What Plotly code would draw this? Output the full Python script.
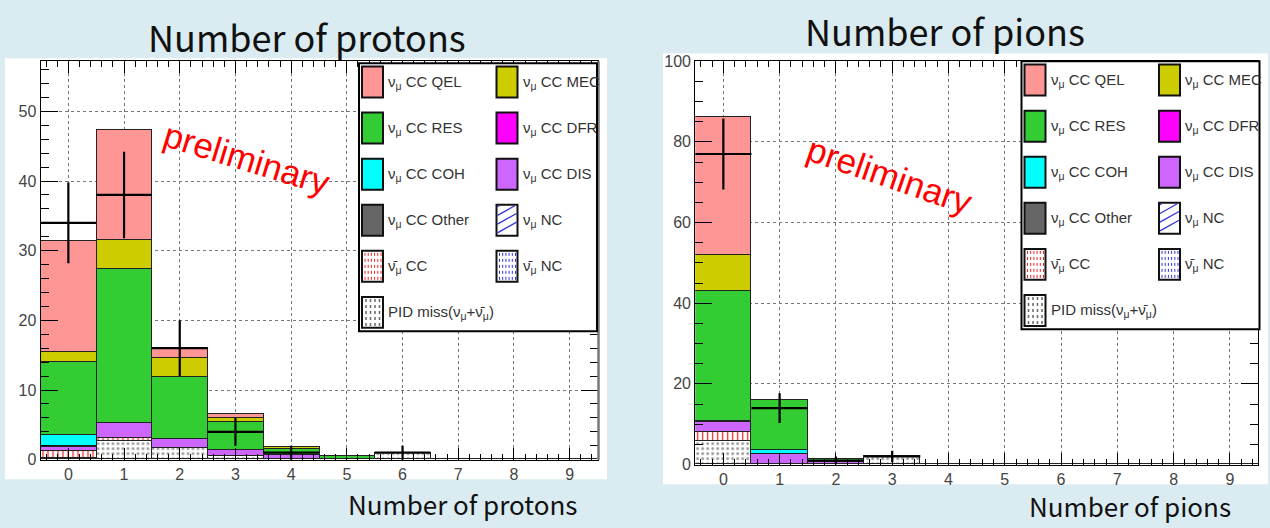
import plotly.graph_objects as go

W, H = 1270, 528

# ---------------------------------------------------------------- data
bins = [0, 1, 2, 3, 4, 5, 6, 7, 8, 9]
bin_labels = ["0", "1", "2", "3", "4", "5", "6", "7", "8", "9"]

# Number of protons: MC components per bin
p_pid_miss = [0.2, 2.6, 1.6, 0.5, 0.0, 0.0, 0.9, 0.05, 0.0, 0.0]
p_nubar_nc = [0.0, 0.0, 0.0, 0.0, 0.0, 0.0, 0.0, 0.0, 0.0, 0.0]
p_nubar_cc = [1.0, 0.5, 0.0, 0.0, 0.0, 0.0, 0.0, 0.0, 0.0, 0.0]
p_nc = [0.0, 0.0, 0.0, 0.0, 0.0, 0.0, 0.0, 0.0, 0.0, 0.0]
p_dis = [0.65, 2.2, 1.4, 0.8, 0.6, 0.1, 0.0, 0.0, 0.0, 0.0]
p_other = [0.1, 0.0, 0.0, 0.0, 0.0, 0.0, 0.0, 0.0, 0.0, 0.0]
p_coh = [1.5, 0.0, 0.0, 0.0, 0.0, 0.0, 0.0, 0.0, 0.0, 0.0]
p_dfr = [0.0, 0.0, 0.0, 0.0, 0.0, 0.0, 0.0, 0.0, 0.0, 0.0]
p_res = [10.55, 22.0, 8.8, 4.1, 0.9, 0.4, 0.0, 0.0, 0.0, 0.0]
p_mec = [1.4, 4.2, 2.7, 0.6, 0.3, 0.0, 0.0, 0.0, 0.0, 0.0]
p_qel = [15.9, 15.8, 1.5, 0.5, 0.0, 0.0, 0.0, 0.0, 0.0, 0.0]

# Number of protons: observed counts
p_data_bins = [0, 1, 2, 3, 4, 6]
p_data = [34, 38, 16, 4, 1, 1]
p_data_err = [5.8, 6.2, 4.0, 2.0, 1.0, 1.0]

# Number of pions: MC components per bin
pi_pid_miss = [5.8, 0.0, 0.0, 2.0, 0.0, 0.0, 0.0, 0.0, 0.0, 0.0]
pi_nubar_nc = [0.0, 0.0, 0.0, 0.0, 0.0, 0.0, 0.0, 0.0, 0.0, 0.0]
pi_nubar_cc = [2.2, 0.1, 0.0, 0.0, 0.0, 0.0, 0.0, 0.0, 0.0, 0.0]
pi_nc = [0.0, 0.0, 0.0, 0.0, 0.0, 0.0, 0.0, 0.0, 0.0, 0.0]
pi_dis = [2.5, 2.5, 0.5, 0.0, 0.0, 0.0, 0.0, 0.0, 0.0, 0.0]
pi_other = [0.3, 0.0, 0.0, 0.0, 0.0, 0.0, 0.0, 0.0, 0.0, 0.0]
pi_coh = [0.0, 1.0, 0.0, 0.0, 0.0, 0.0, 0.0, 0.0, 0.0, 0.0]
pi_dfr = [0.0, 0.0, 0.0, 0.0, 0.0, 0.0, 0.0, 0.0, 0.0, 0.0]
pi_res = [32.2, 12.4, 0.9, 0.0, 0.0, 0.0, 0.0, 0.0, 0.0, 0.0]
pi_mec = [9.0, 0.0, 0.0, 0.0, 0.0, 0.0, 0.0, 0.0, 0.0, 0.0]
pi_qel = [34.0, 0.0, 0.0, 0.0, 0.0, 0.0, 0.0, 0.0, 0.0, 0.0]

# Number of pions: observed counts
pi_data_bins = [0, 1, 2, 3]
pi_data = [77, 14, 1, 2]
pi_data_err = [8.8, 3.7, 1.0, 1.4]

# ---------------------------------------------------------------- styles
NU = "ν<sub>μ</sub>"
NUBAR = "ν̄<sub>μ</sub>"

STYLE = {
    "qel": dict(label=NU + " CC QEL", color="#ff9696", pat=None),
    "mec": dict(label=NU + " CC MEC", color="#cccc00", pat=None),
    "res": dict(label=NU + " CC RES", color="#33cc33", pat=None),
    "dfr": dict(label=NU + " CC DFR", color="#ff00ff", pat=None),
    "coh": dict(label=NU + " CC COH", color="#00ffff", pat=None),
    "dis": dict(label=NU + " CC DIS", color="#cc66ff", pat=None),
    "other": dict(label=NU + " CC Other", color="#666666", pat=None),
    "nc": dict(label=NU + " NC", color="#3333dd", pat="/"),
    "nubar_cc": dict(label=NUBAR + " CC", color="#ee2222", pat="|"),
    "nubar_nc": dict(label=NUBAR + " NC", color="#3333dd", pat="|"),
    "pid": dict(label="PID miss(" + NU + "+" + NUBAR + ")", color="#999999", pat="."),
}

# bottom-to-top stacking order
STACK = ["pid", "nubar_nc", "nubar_cc", "nc", "dis", "other", "coh", "dfr", "res", "mec", "qel"]

proton_mc = {
    "pid": p_pid_miss, "nubar_nc": p_nubar_nc, "nubar_cc": p_nubar_cc, "nc": p_nc,
    "dis": p_dis, "other": p_other, "coh": p_coh, "dfr": p_dfr,
    "res": p_res, "mec": p_mec, "qel": p_qel,
}
pion_mc = {
    "pid": pi_pid_miss, "nubar_nc": pi_nubar_nc, "nubar_cc": pi_nubar_cc, "nc": pi_nc,
    "dis": pi_dis, "other": pi_other, "coh": pi_coh, "dfr": pi_dfr,
    "res": pi_res, "mec": pi_mec, "qel": pi_qel,
}

LEGEND_ROWS = [("qel", "mec"), ("res", "dfr"), ("coh", "dis"),
               ("other", "nc"), ("nubar_cc", "nubar_nc"), ("pid", None)]

BG = "#daecf2"
FONT = "Liberation Sans, Arial, sans-serif"
TITLE_FONT = "Noto Sans CJK JP, Noto Sans, sans-serif"


def fx(x):
    return x / W


def fy(y):
    return 1 - y / H


fig = go.Figure()


def add_panel(mc, data_bins, data, data_err, xa, ya):
    for key in STACK:
        st = STYLE[key]
        if st["pat"] is None:
            marker = dict(color=st["color"], line=dict(color="#222222", width=1))
        else:
            marker = dict(
                color="white",
                line=dict(color="#222222", width=1),
                pattern=dict(shape=st["pat"], fgcolor=st["color"], bgcolor="white",
                             size=5, solidity=0.25, fillmode="replace"),
            )
        fig.add_trace(go.Bar(x=bins, y=mc[key], width=1.0, marker=marker,
                             xaxis=xa, yaxis=ya, showlegend=False, name=st["label"]))
    fig.add_trace(go.Scatter(
        x=data_bins, y=data, mode="markers",
        marker=dict(size=1, color="black"),
        error_y=dict(type="data", array=data_err, color="black", thickness=2.2, width=0),
        error_x=dict(type="data", array=[0.5] * len(data_bins), color="black", thickness=2.2, width=0),
        xaxis=xa, yaxis=ya, showlegend=False, name="data",
    ))


add_panel(proton_mc, p_data_bins, p_data, p_data_err, "x", "y")
add_panel(pion_mc, pi_data_bins, pi_data, pi_data_err, "x2", "y2")

TICKFONT = dict(family=FONT, size=16, color="#444444")


def xaxis_cfg(x0, x1, anchor):
    return dict(
        domain=[fx(x0), fx(x1)], range=[-0.5, 9.5], anchor=anchor,
        tickmode="array", tickvals=bins, ticktext=bin_labels,
        ticks="inside", ticklen=12, tickcolor="black",
        minor=dict(ticks="inside", ticklen=6, dtick=0.2, tick0=0, tickcolor="black", showgrid=False),
        showgrid=True, gridcolor="#777777", griddash="dot", gridwidth=1,
        showline=True, linecolor="black", linewidth=1, mirror="allticks",
        zeroline=False, tickfont=TICKFONT, fixedrange=True,
    )


def yaxis_cfg(y0, y1, top, major, minor, anchor):
    return dict(
        domain=[fy(y0), fy(y1)], range=[0, top], anchor=anchor,
        tickmode="linear", tick0=0, dtick=major,
        ticks="inside", ticklen=17, tickcolor="black",
        minor=dict(ticks="inside", ticklen=8, dtick=minor, tick0=0, tickcolor="black", showgrid=False),
        showgrid=True, gridcolor="#777777", griddash="dot", gridwidth=1,
        showline=True, linecolor="black", linewidth=1, mirror="allticks",
        zeroline=False, tickfont=TICKFONT, fixedrange=True,
    )


shapes = []
annotations = []

# white panels on the light-blue slide background
for (x0, y0, x1, y1) in [(5, 52, 607, 487), (663, 47, 1268, 492)]:
    shapes.append(dict(type="rect", xref="paper", yref="paper", layer="below",
                       x0=fx(x0), x1=fx(x1), y0=fy(y1), y1=fy(y0),
                       fillcolor="white", line=dict(width=0)))

# heavier right-hand frame edge of the proton histogram
shapes.append(dict(type="line", xref="paper", yref="paper", layer="above",
                   x0=fx(598.5), x1=fx(598.5), y0=fy(466.7), y1=fy(55),
                   line=dict(color="#777777", width=2.5)))


def add_legend(lx, ly):
    """Two-column legend box with its top-left corner at pixel (lx, ly)."""
    shapes.append(dict(type="rect", xref="paper", yref="paper", layer="above",
                       x0=fx(lx), x1=fx(lx + 238), y0=fy(ly + 277), y1=fy(ly),
                       fillcolor="white", line=dict(color="black", width=2)))
    row_h = 47.6
    bw, bh = 21, 32
    for r, row in enumerate(LEGEND_ROWS):
        cy = ly + 19.5 + r * row_h
        for c, key in enumerate(row):
            if key is None:
                continue
            st = STYLE[key]
            bx = lx + 3 + c * 134.5
            by0, by1 = cy - bh / 2, cy + bh / 2
            fill = "white" if st["pat"] else st["color"]
            shapes.append(dict(type="rect", xref="paper", yref="paper", layer="above",
                               x0=fx(bx), x1=fx(bx + bw), y0=fy(by1), y1=fy(by0),
                               fillcolor=fill, line=dict(color="#111111", width=2)))
            if st["pat"] == "/":
                # diagonal hatch rising to the right, clipped to the swatch
                for k in range(4):
                    x_a, y_a = bx + 1, by1 - 3 - k * 9
                    x_b, y_b = bx + bw - 1, y_a - 11
                    if y_b < by0 + 1:
                        x_b = x_a + (x_b - x_a) * (y_a - by0 - 1) / (y_a - y_b)
                        y_b = by0 + 1
                    shapes.append(dict(type="line", xref="paper", yref="paper", layer="above",
                                       x0=fx(x_a), x1=fx(x_b), y0=fy(y_a), y1=fy(y_b),
                                       line=dict(color=st["color"], width=1.3)))
            elif st["pat"] == "|":
                for k in range(6):
                    xx = bx + 3 + k * 3.2
                    shapes.append(dict(type="line", xref="paper", yref="paper", layer="above",
                                       x0=fx(xx), x1=fx(xx), y0=fy(by1 - 2), y1=fy(by0 + 2),
                                       line=dict(color=st["color"], width=1, dash="dot")))
            elif st["pat"] == ".":
                for k in range(4):
                    xx = bx + 4 + k * 4.5
                    shapes.append(dict(type="line", xref="paper", yref="paper", layer="above",
                                       x0=fx(xx), x1=fx(xx), y0=fy(by1 - 2), y1=fy(by0 + 2),
                                       line=dict(color="#666666", width=1.5, dash="dot")))
            annotations.append(dict(
                x=fx(bx + bw + 3), y=fy(cy), xref="paper", yref="paper",
                xanchor="left", yanchor="middle", showarrow=False,
                text=st["label"], font=dict(family=FONT, size=15, color="#333333"),
            ))


add_legend(359, 57)
add_legend(1021.5, 55)

# panel titles and axis titles
for text, x, y, size in [
    ("Number of protons", 307, 29, 36),
    ("Number of pions", 945, 23, 36),
    ("Number of protons", 462, 512, 26),
    ("Number of pions", 1130, 514, 26),
]:
    annotations.append(dict(x=fx(x), y=fy(y), xref="paper", yref="paper",
                            xanchor="center", yanchor="middle", showarrow=False,
                            text=text, font=dict(family=TITLE_FONT, size=size, color="#111111")))

# "preliminary" stamps
for x, y, ang in [(247, 156, 17), (890, 173, 19)]:
    annotations.append(dict(x=fx(x), y=fy(y), xref="paper", yref="paper",
                            xanchor="center", yanchor="middle", showarrow=False,
                            text="preliminary", textangle=ang,
                            font=dict(family=FONT, size=35, color="#ff0000")))

fig.update_layout(
    width=W, height=H, autosize=False,
    margin=dict(l=0, r=0, t=0, b=0, pad=0),
    paper_bgcolor=BG, plot_bgcolor="rgba(0,0,0,0)",
    barmode="stack", bargap=0,
    showlegend=False,
    xaxis=xaxis_cfg(40.5, 597.5, "y"),
    yaxis=yaxis_cfg(466.7, 55, 57.2, 10, 2, "x"),
    xaxis2=xaxis_cfg(695.2, 1258, "y2"),
    yaxis2=yaxis_cfg(471.7, 55, 100, 20, 5, "x2"),
    shapes=shapes,
    annotations=annotations,
)

fig.write_html("out.html")
